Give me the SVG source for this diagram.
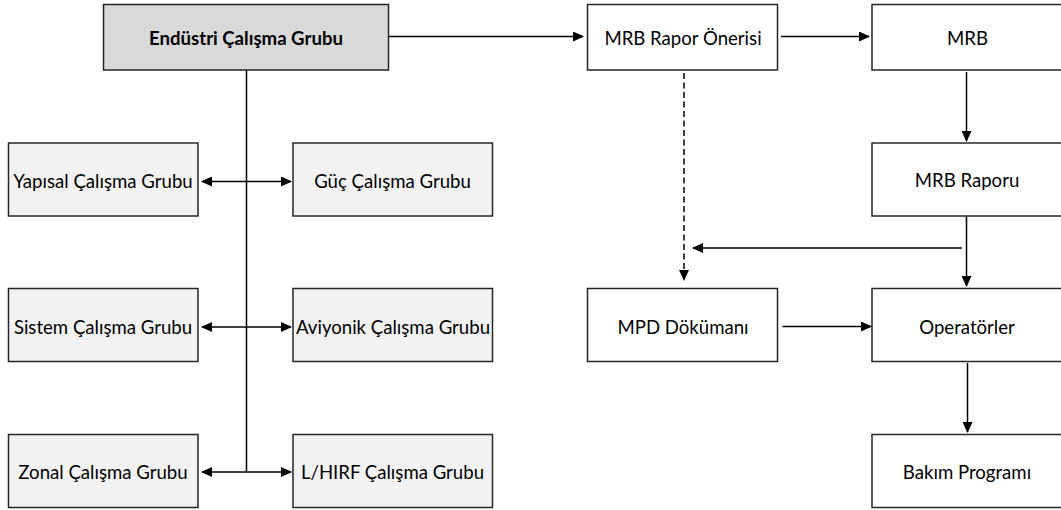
<svg xmlns="http://www.w3.org/2000/svg" width="1061" height="510" viewBox="0 0 1061 510">
  <defs>
    <marker id="arrow" viewBox="0 0 11 10" refX="10" refY="5" markerWidth="11" markerHeight="10" markerUnits="userSpaceOnUse" orient="auto-start-reverse">
      <path d="M0,0 L11,5 L0,10 z" fill="#000"/>
    </marker>
  </defs>
  <style>
    .box { stroke: #262626; stroke-width: 1.5; }
    .head { fill: #d9d9d9; }
    .group { fill: #f2f2f2; }
    .doc { fill: #ffffff; }
    .label { font-family: Lato, "Liberation Sans", sans-serif; font-size: 18.6px; fill: #000; text-anchor: middle; }
    .bold { font-weight: bold; }
    .link { fill: none; stroke: #000; stroke-width: 1.5; }
    .arrow { marker-end: url(#arrow); }
    .both { marker-start: url(#arrow); marker-end: url(#arrow); }
    .dashed { stroke-dasharray: 6 3.5; }
  </style>
  <rect width="1061" height="510" fill="#ffffff"/>

  <!-- connectors -->
  <g id="connectors">
    <line class="link" x1="246.5" y1="70" x2="246.5" y2="472"/>
    <line class="link both" x1="202" y1="181.5" x2="291" y2="181.5"/>
    <line class="link both" x1="202" y1="327" x2="291" y2="327"/>
    <line class="link both" x1="202" y1="472" x2="291" y2="472"/>
    <line class="link arrow" x1="389" y1="36.5" x2="583" y2="36.5"/>
    <line class="link arrow" x1="781" y1="36.5" x2="869" y2="36.5"/>
    <line class="link arrow" x1="966.5" y1="72" x2="966.5" y2="141"/>
    <line class="link arrow" x1="966.5" y1="216" x2="966.5" y2="286"/>
    <line class="link arrow" x1="962" y1="248" x2="693" y2="248"/>
    <line class="link arrow dashed" x1="684" y1="73" x2="684" y2="280"/>
    <line class="link arrow" x1="782.5" y1="326.5" x2="871" y2="326.5"/>
    <line class="link arrow" x1="967.5" y1="363" x2="967.5" y2="432"/>
  </g>

  <!-- industry steering group -->
  <g id="endustri">
    <rect class="box head" x="103.5" y="4.5" width="285" height="65.5"/>
    <text class="label bold" x="246" y="45">Endüstri Çalışma Grubu</text>
  </g>

  <!-- working groups -->
  <g id="yapisal">
    <rect class="box group" x="8.5" y="143" width="189.5" height="73"/>
    <text class="label" x="103" y="187.5">Yapısal Çalışma Grubu</text>
  </g>
  <g id="guc">
    <rect class="box group" x="293" y="143" width="199.5" height="73"/>
    <text class="label" x="392.5" y="187.5">Güç Çalışma Grubu</text>
  </g>
  <g id="sistem">
    <rect class="box group" x="8.5" y="288.5" width="189.5" height="73"/>
    <text class="label" x="103" y="333.5">Sistem Çalışma Grubu</text>
  </g>
  <g id="aviyonik">
    <rect class="box group" x="293" y="288.5" width="199.5" height="73"/>
    <text class="label" x="393" y="333.5">Aviyonik Çalışma Grubu</text>
  </g>
  <g id="zonal">
    <rect class="box group" x="8.5" y="434.5" width="189.5" height="73"/>
    <text class="label" x="103" y="478.5">Zonal Çalışma Grubu</text>
  </g>
  <g id="lhirf">
    <rect class="box group" x="293" y="434.5" width="199.5" height="73"/>
    <text class="label" x="392.5" y="478.5">L/HIRF Çalışma Grubu</text>
  </g>

  <!-- review flow -->
  <g id="mrb-rapor-onerisi">
    <rect class="box doc" x="587.5" y="4.5" width="190" height="65.5"/>
    <text class="label" x="683" y="45">MRB Rapor Önerisi</text>
  </g>
  <g id="mrb">
    <rect class="box doc" x="872" y="4.5" width="190" height="65.5"/>
    <text class="label" x="967.5" y="45">MRB</text>
  </g>
  <g id="mrb-raporu">
    <rect class="box doc" x="872" y="143" width="190" height="73"/>
    <text class="label" x="967" y="187">MRB Raporu</text>
  </g>
  <g id="mpd">
    <rect class="box doc" x="587.5" y="288.5" width="190" height="73"/>
    <text class="label" x="683" y="333.5">MPD Dökümanı</text>
  </g>
  <g id="operatorler">
    <rect class="box doc" x="872" y="288.5" width="190" height="73"/>
    <text class="label" x="967" y="333.5">Operatörler</text>
  </g>
  <g id="bakim">
    <rect class="box doc" x="872" y="434.5" width="190" height="73"/>
    <text class="label" x="967" y="479">Bakım Programı</text>
  </g>
</svg>
